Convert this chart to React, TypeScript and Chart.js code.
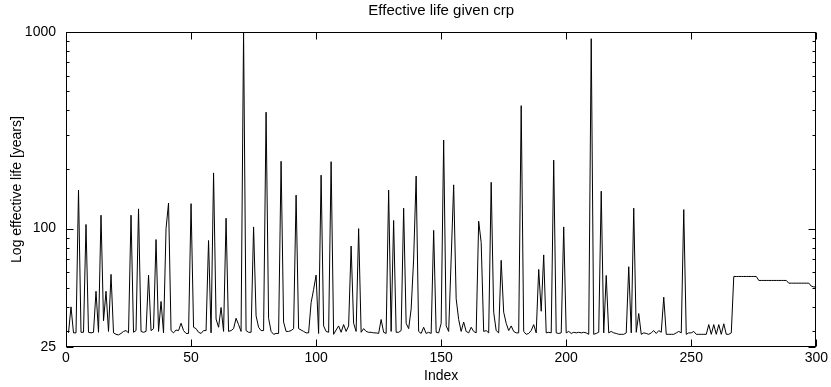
import React, { useEffect, useRef } from "react";
import { Chart, registerables } from "chart.js";
Chart.register(...registerables);

const chartTitle = "Effective life given crp";
const xTitle = "Index";
const yTitle = "Log effective life [years]";

const xTickValues = [0, 50, 100, 150, 200, 250, 300];
const yTickValues = [25, 100, 1000];
const yMinorTicks = [30, 40, 50, 60, 70, 80, 90, 200, 300, 400, 500, 600, 700, 800, 900];

// effective life, index 1..100
const lifeA = [
  29.5, 40, 29.5, 29.5, 157, 29.7, 29.7, 105, 29.7, 29.5,
  29.7, 48, 29.7, 117, 34, 48, 30, 58.5, 29.5, 29,
  28.8, 29.3, 30, 30.3, 29.5, 117, 29.7, 30.3, 126, 30,
  29.7, 30, 58, 30.3, 31, 88, 30, 42.6, 29.5, 100,
  135, 30.3, 29.5, 30.5, 30.3, 33, 30.3, 29.3, 29.3, 134,
  31.5, 31, 29.7, 29.3, 30.3, 30.3, 87, 29.5, 192, 34.7,
  31.5, 39.7, 30, 113, 30, 30.3, 31, 35, 32.5, 30,
  1000, 30.3, 29.7, 29.7, 102, 36, 31.5, 30.3, 30.3, 391,
  35, 30, 29, 29.3, 29.3, 220, 33.5, 30, 30, 30.3,
  31, 148, 31, 30.5, 30, 29.5, 29.5, 42, 49, 58,
];
// index 101..200
const lifeB = [
  29.3, 187, 32, 30, 29.7, 219, 29, 30.5, 32, 29.7,
  32.5, 30, 32, 81.5, 33, 30, 100, 29.7, 31, 30,
  29.7, 29.7, 29.5, 29.5, 29.3, 34.5, 29.7, 29.3, 157, 30,
  110, 29.7, 29.7, 30.3, 127, 33, 31, 39, 70, 185,
  30, 29.3, 31.5, 29.3, 29.7, 29.3, 98, 29.7, 29.5, 33,
  282, 32, 30, 70, 167, 44, 34.5, 30, 33.5, 30,
  29.5, 31.5, 30, 29.5, 109, 85, 30, 30.3, 29.5, 172,
  37.6, 30.3, 29.5, 69, 37.6, 33, 30.3, 32, 30, 29.5,
  29.5, 422, 30, 29, 29.3, 30.3, 32.5, 29.5, 62, 38,
  73.5, 29.5, 29.7, 29.5, 223, 29.5, 29.3, 29.5, 102, 29.5,
];
// index 201..300
const lifeC = [
  30, 29.3, 29.7, 29.5, 29.7, 29.5, 29.7, 29.5, 29, 925,
  29, 29.3, 29.7, 155, 29.5, 57.8, 29.5, 30, 29.5, 29.3,
  29, 29, 29, 29.5, 64, 29.5, 127, 29.7, 37, 29,
  29.5, 29.3, 29, 29.5, 30.3, 29.3, 30.3, 29.7, 44.8, 29,
  29, 29, 29, 29.5, 30, 29.5, 125, 29, 29.5, 29.5,
  30, 29, 29, 29, 29, 29, 32.5, 29, 32.5, 29,
  32.5, 29, 32.8, 29, 29, 29.5, 57.1, 57.1, 57.1, 57.1,
  57.1, 57.1, 57.1, 57.1, 57.1, 57.1, 54.5, 54.5, 54.5, 54.5,
  54.5, 54.5, 54.5, 54.5, 54.5, 54.5, 54.5, 54.5, 52.8, 52.8,
  52.8, 52.8, 52.8, 52.8, 52.8, 52.8, 52.8, 51, 50.5, 50.5,
];

const life = [...lifeA, ...lifeB, ...lifeC];
const indices = life.map((_, i) => i + 1);

const FONT = "'Liberation Sans', Arial, Helvetica, sans-serif";
const W = 831;
const H = 387;

const framePlugin = {
  id: "frame",
  afterDraw(chart: any) {
    const { ctx, chartArea } = chart;
    const xs = chart.scales.x;
    const ys = chart.scales.y;
    const l = Math.round(chartArea.left) + 0.5;
    const r = Math.round(chartArea.right) - 0.5;
    const t = Math.round(chartArea.top) + 0.5;
    const b = Math.round(chartArea.bottom) - 0.5;
    ctx.save();
    ctx.strokeStyle = "#000";
    ctx.lineWidth = 1;
    ctx.strokeRect(l, t, r - l, b - t);
    ctx.beginPath();
    for (const v of xTickValues) {
      const px = Math.round(xs.getPixelForValue(v)) + 0.5;
      ctx.moveTo(px, b);
      ctx.lineTo(px, b - 7);
      ctx.moveTo(px, t);
      ctx.lineTo(px, t + 7);
    }
    for (const v of yTickValues) {
      const py = Math.round(ys.getPixelForValue(v)) + 0.5;
      ctx.moveTo(l, py);
      ctx.lineTo(l + 7, py);
      ctx.moveTo(r, py);
      ctx.lineTo(r - 7, py);
    }
    for (const v of yMinorTicks) {
      const py = Math.round(ys.getPixelForValue(v)) + 0.5;
      ctx.moveTo(l, py);
      ctx.lineTo(l + 3, py);
      ctx.moveTo(r, py);
      ctx.lineTo(r - 3, py);
    }
    ctx.stroke();
    ctx.fillStyle = "#000";
    ctx.font = `15px ${FONT}`;
    ctx.textAlign = "center";
    ctx.textBaseline = "middle";
    ctx.fillText(chartTitle, (chartArea.left + chartArea.right) / 2, 11);
    ctx.restore();
  },
};

export default function App() {
  const ref = useRef<HTMLCanvasElement | null>(null);
  useEffect(() => {
    if (!ref.current) return;
    const chart = new Chart(ref.current, {
      type: "line",
      data: {
        datasets: [
          {
            data: indices.map((x, i) => ({ x, y: life[i] })),
            borderColor: "#000",
            borderWidth: 1,
            pointRadius: 0,
            tension: 0,
            fill: false,
          },
        ],
      },
      options: {
        animation: false,
        responsive: false,
        devicePixelRatio: 1,
        layout: { padding: { top: 32, right: 12, left: 0, bottom: 0 } },
        plugins: { legend: { display: false }, tooltip: { enabled: false }, title: { display: false } },
        scales: {
          x: {
            type: "linear",
            min: 0,
            max: 300,
            afterBuildTicks: (s: any) => {
              s.ticks = xTickValues.map((value) => ({ value }));
            },
            afterFit: (s: any) => {
              s.height = 40;
            },
            grid: { display: false, drawTicks: false },
            border: { display: false },
            ticks: { color: "#000", font: { family: FONT, size: 14 }, padding: 3, maxRotation: 0, autoSkip: false },
            title: { display: true, text: xTitle, color: "#000", font: { family: FONT, size: 14 }, padding: { top: 0, bottom: 2 } },
          },
          y: {
            type: "logarithmic",
            min: 25,
            max: 1000,
            afterBuildTicks: (s: any) => {
              s.ticks = yTickValues.map((value) => ({ value }));
            },
            afterFit: (s: any) => {
              s.width = 66;
            },
            grid: { display: false, drawTicks: false },
            border: { display: false },
            ticks: {
              color: "#000",
              font: { family: FONT, size: 14 },
              padding: 10,
              autoSkip: false,
              callback: (v: any) => String(v),
            },
            title: { display: true, text: yTitle, color: "#000", font: { family: FONT, size: 14 }, padding: { top: 9, bottom: 0 } },
          },
        },
      },
      plugins: [framePlugin],
    });
    return () => chart.destroy();
  }, []);
  return (
    <div style={{ position: "absolute", left: 0, top: 0, width: W, height: H, background: "#fff" }}>
      <canvas ref={ref} width={W} height={H} style={{ width: W, height: H, display: "block" }} />
    </div>
  );
}
